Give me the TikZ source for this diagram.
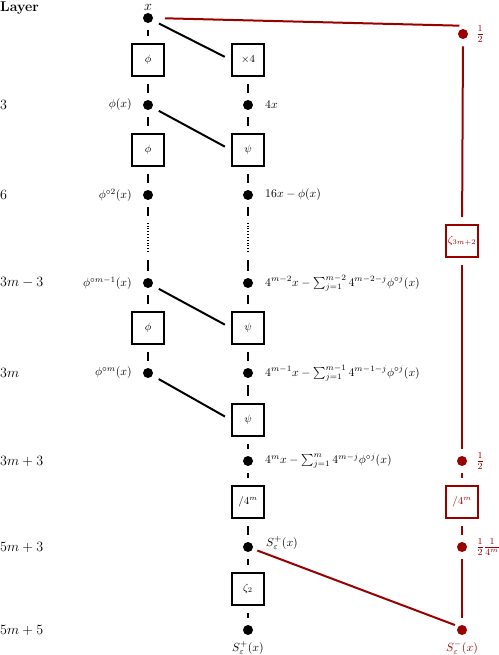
\documentclass[tikz,border=0pt]{standalone}
\usepackage{amsmath,amssymb}
\usetikzlibrary{calc}
\definecolor{dred}{RGB}{153,0,0}
\begin{document}
\begin{tikzpicture}[x=0.85pt,y=-0.85pt,
  bdot/.style={circle,fill=black,inner sep=0pt,minimum size=8.5pt},
  rdot/.style={bdot,fill=dred},
  opbox/.style={draw,line width=1.8pt,minimum size=27pt,inner sep=1pt,font=\small},
  ropbox/.style={opbox,draw=dred,text=dred},
  gapnode/.style={inner sep=0pt,minimum height=25.5pt,minimum width=2pt},
  conn/.style={line width=1.7pt,shorten <=6pt,shorten >=6pt},
  rconn/.style={conn,draw=dred},
  vdotted/.style={line width=1.7pt,dash pattern=on 0.8pt off 1.6pt},
  layer/.style={anchor=west,inner sep=0pt,font=\large},
  llab/.style={anchor=east,inner sep=0pt},
  rlab/.style={anchor=west,inner sep=0pt},
  redlab/.style={anchor=west,inner sep=0pt,text=dred,font=\large}
]
\useasboundingbox (0,0) rectangle (498,655);

% layer labels
\node[layer,font=\large\bfseries] (hdr) at (0,8) {Layer};
\node[layer] (l1) at (0,105) {$3$};
\node[layer] (l2) at (0,195) {$6$};
\node[layer] (l3) at (0,283) {$3m-3$};
\node[layer] (l4) at (0,373) {$3m$};
\node[layer] (l5) at (0,461) {$3m+3$};
\node[layer] (l6) at (0,547) {$5m+3$};
\node[layer] (l7) at (0,630) {$5m+5$};

% column 1
\node[bdot] (a0) at (148,18) {};
\node[inner sep=0pt,font=\large] (xl) at (148,7.5) {$x$};
\node[opbox] (b1) at (148,60) {$\phi$};
\node[bdot] (a1) at (148,105) {};
\node[opbox] (b2) at (148,150) {$\phi$};
\node[bdot] (a2) at (148,195) {};
\node[gapnode] (v1) at (148,238) {};
\node[bdot] (a3) at (148,283) {};
\node[opbox] (b3) at (148,328) {$\phi$};
\node[bdot] (a4) at (148,373) {};

\node[llab] (la1) at (132,105) {$\phi(x)$};
\node[llab] (la2) at (132,195) {$\phi^{\circ 2}(x)$};
\node[llab] (la3) at (132,283) {$\phi^{\circ m-1}(x)$};
\node[llab] (la4) at (132,373) {$\phi^{\circ m}(x)$};

% column 2
\node[opbox] (c1) at (248,60) {$\times 4$};
\node[bdot] (d1) at (248,105) {};
\node[opbox] (c2) at (248,150) {$\psi$};
\node[bdot] (d2) at (248,195) {};
\node[gapnode] (v2) at (248,238) {};
\node[bdot] (d3) at (248,283) {};
\node[opbox] (c3) at (248,328) {$\psi$};
\node[bdot] (d4) at (248,373) {};
\node[opbox] (c4) at (248,420) {$\psi$};
\node[bdot] (d5) at (248,461) {};
\node[opbox] (c5) at (248,502) {$/4^m$};
\node[bdot] (d6) at (248,547) {};
\node[opbox] (c6) at (248,589) {$\zeta_2$};
\node[bdot] (d7) at (248,630) {};

\node[rlab] (ld1) at (265,105) {$4x$};
\node[rlab] (ld2) at (265,195) {$16x-\phi(x)$};
\node[rlab] (ld3) at (265,283) {$4^{m-2}x-\sum_{j=1}^{m-2}4^{m-2-j}\phi^{\circ j}(x)$};
\node[rlab] (ld4) at (265,373) {$4^{m-1}x-\sum_{j=1}^{m-1}4^{m-1-j}\phi^{\circ j}(x)$};
\node[rlab] (ld5) at (265,461) {$4^{m}x-\sum_{j=1}^{m}4^{m-j}\phi^{\circ j}(x)$};
\node[rlab] (ld6) at (266,543) {$S_\varepsilon^{+}(x)$};
\node[inner sep=0pt] (ld7) at (248,648) {$S_\varepsilon^{+}(x)$};

% red column
\node[rdot] (r0) at (463,34) {};
\node[ropbox] (rz) at (462,241) {$\zeta_{3m+2}$};
\node[rdot] (r1) at (462,461) {};
\node[ropbox] (rb) at (462,502) {$/4^m$};
\node[rdot] (r2) at (462,547) {};
\node[rdot] (r3) at (462,630) {};

\node[redlab] (lr0) at (476,34) {$\frac{1}{2}$};
\node[redlab] (lr1) at (476,461) {$\frac{1}{2}$};
\node[redlab] (lr2) at (476,547) {$\frac{1}{2}\frac{1}{4^m}$};
\node[inner sep=0pt,text=dred] (lr3) at (462,648) {$S_\varepsilon^{-}(x)$};

% column 1 connectors
\draw[conn] (a0) -- (b1);
\draw[conn] (b1) -- (a1);
\draw[conn] (a1) -- (b2);
\draw[conn] (b2) -- (a2);
\draw[conn] (a2) -- (v1);
\draw[vdotted] (v1.north) -- (v1.south);
\draw[conn] (v1) -- (a3);
\draw[conn] (a3) -- (b3);
\draw[conn] (b3) -- (a4);

% column 2 connectors
\draw[conn] (c1) -- (d1);
\draw[conn] (d1) -- (c2);
\draw[conn] (c2) -- (d2);
\draw[conn] (d2) -- (v2);
\draw[vdotted] (v2.north) -- (v2.south);
\draw[conn] (v2) -- (d3);
\draw[conn] (d3) -- (c3);
\draw[conn] (c3) -- (d4);
\draw[conn] (d4) -- (c4);
\draw[conn] (c4) -- (d5);
\draw[conn] (d5) -- (c5);
\draw[conn] (c5) -- (d6);
\draw[conn] (d6) -- (c6);
\draw[conn] (c6) -- (d7);

% diagonals
\draw[conn] (a0) -- (c1.west);
\draw[conn] (a1) -- (c2.west);
\draw[conn] (a3) -- (c3.west);
\draw[conn] (a4) -- (c4.west);

% red connectors
\coordinate (r0top) at ($(r0.north)+(0,-3)$);
\draw[rconn,shorten <=10pt,shorten >=3pt] (a0.east) -- (r0top);
\draw[rconn] (r0) -- (rz);
\draw[rconn] (rz) -- (r1);
\draw[rconn] (r1) -- (rb);
\draw[rconn] (rb) -- (r2);
\draw[rconn] (r2) -- (r3);
\draw[rconn,shorten <=4pt,shorten >=3pt] (d6) -- (r3.north west);
\end{tikzpicture}
\end{document}
